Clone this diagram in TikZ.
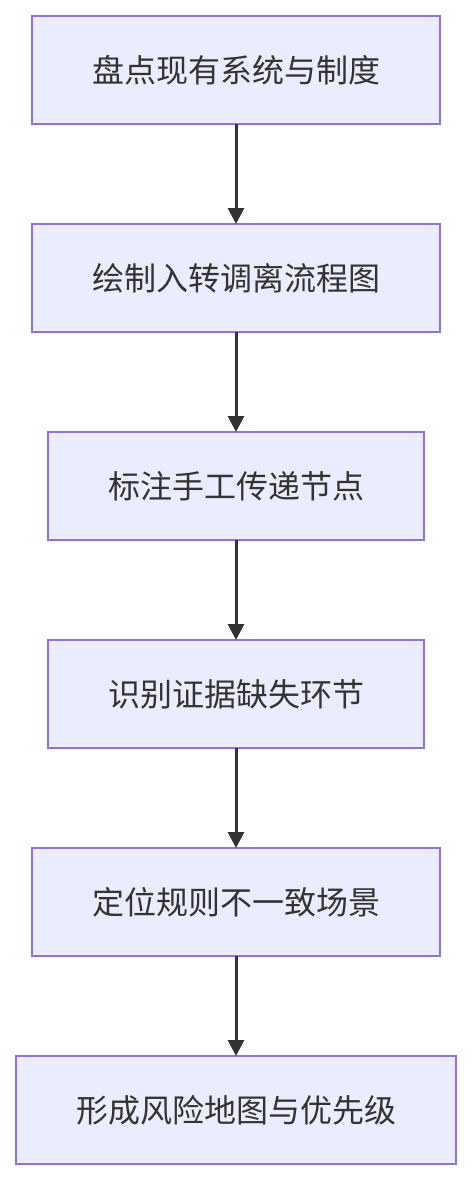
\documentclass[tikz,border=0pt]{standalone}
\usepackage{fontspec}
\newfontfamily\cjk{Noto Sans CJK SC}
\usepackage{tikz}
\usetikzlibrary{arrows.meta, positioning}
\definecolor{boxfill}{HTML}{ECECFF}
\definecolor{boxline}{HTML}{9370DB}
\definecolor{ink}{HTML}{333333}
\tikzset{
  flowbox/.style={draw=boxline, fill=boxfill, line width=2pt, minimum height=108pt, inner sep=0pt, outer sep=0pt,
    text=ink, font=\cjk\fontsize{32pt}{38pt}\selectfont},
  flowarrow/.style={draw=ink, line width=3pt, -{Triangle[width=16pt,length=16pt]}}
}
\begin{document}
\begin{tikzpicture}[node distance=100pt]
		\useasboundingbox (0pt,0pt) rectangle (472pt,-1180pt);
			\node[flowbox, minimum width=408pt] (inventory) at (236pt,-70pt) {盘点现有系统与制度};
			\node[flowbox, minimum width=408pt, below=of inventory] (mapflow) {绘制入转调离流程图};
			\node[flowbox, minimum width=376pt, below=of mapflow] (manual) {标注手工传递节点};
			\node[flowbox, minimum width=376pt, below=of manual] (evidence) {识别证据缺失环节};
			\node[flowbox, minimum width=408pt, below=of evidence] (rules) {定位规则不一致场景};
			\node[flowbox, minimum width=440pt, below=of rules] (riskmap) {形成风险地图与优先级};

			%connectors
			\draw[flowarrow] (inventory) -- (mapflow);
			\draw[flowarrow] (mapflow) -- (manual);
			\draw[flowarrow] (manual) -- (evidence);
			\draw[flowarrow] (evidence) -- (rules);
			\draw[flowarrow] (rules) -- (riskmap);
	\end{tikzpicture}
\end{document}
